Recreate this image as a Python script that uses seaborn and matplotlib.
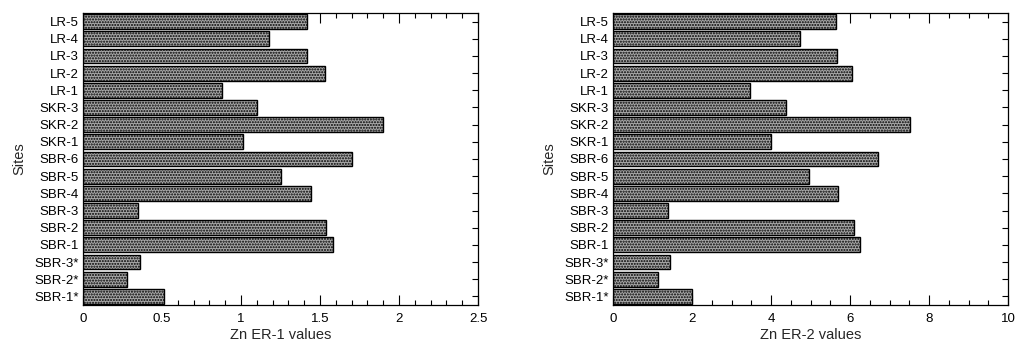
import matplotlib
matplotlib.use("Agg")
import matplotlib.pyplot as plt
import seaborn as sns
import pandas as pd
from matplotlib.ticker import MultipleLocator

sites = ["LR-5", "LR-4", "LR-3", "LR-2", "LR-1", "SKR-3", "SKR-2", "SKR-1",
         "SBR-6", "SBR-5", "SBR-4", "SBR-3", "SBR-2", "SBR-1",
         "SBR-3*", "SBR-2*", "SBR-1*"]
er1_values = [1.42, 1.18, 1.42, 1.53, 0.88, 1.10, 1.90, 1.01,
              1.70, 1.25, 1.44, 0.35, 1.54, 1.58, 0.36, 0.28, 0.51]
er2_values = [5.65, 4.73, 5.67, 6.05, 3.47, 4.37, 7.52, 3.99,
              6.72, 4.95, 5.70, 1.39, 6.10, 6.25, 1.44, 1.13, 2.00]

sns.set_style("ticks")
plt.rcParams['font.family'] = ['Liberation Sans', 'DejaVu Sans']
plt.rcParams['hatch.color'] = '#3a3a3a'
plt.rcParams['hatch.linewidth'] = 1.0

fig = plt.figure(figsize=(10.27, 3.5), dpi=100)
ax1 = fig.add_axes([83/1027, 45/350, 395/1027, 292/350])
ax2 = fig.add_axes([613/1027, 45/350, 395/1027, 292/350])

panels = [
    (ax1, er1_values, "Zn ER-1 values", 2.5, 0.5, 0.1),
    (ax2, er2_values, "Zn ER-2 values", 10, 2, 0.5),
]

for ax, vals, xlabel, xmax, major, minor in panels:
    df = pd.DataFrame({"Sites": sites, "value": vals})
    sns.barplot(data=df, x="value", y="Sites", orient="h", ax=ax,
                color="#a8a8a8", width=0.86, saturation=1,
                edgecolor="black", linewidth=1.0)
    for p in ax.patches:
        p.set_hatch("......")
        p.set_edgecolor("black")
    ax.set_xlim(0, xmax)
    ax.set_ylim(len(sites) - 0.5, -0.5)
    ax.xaxis.set_major_locator(MultipleLocator(major))
    ax.xaxis.set_minor_locator(MultipleLocator(minor))
    ax.xaxis.set_major_formatter(matplotlib.ticker.FuncFormatter(lambda v, p: f"{v:g}"))
    ax.tick_params(axis="both", which="both", direction="in",
                   top=True, right=True, labelsize=9.5, width=0.8, colors="black")
    ax.tick_params(axis="x", which="major", length=7, pad=6)
    ax.tick_params(axis="x", which="minor", length=3.5)
    ax.tick_params(axis="y", which="major", length=4, pad=3)
    for s in ax.spines.values():
        s.set_visible(True)
        s.set_linewidth(0.9)
        s.set_color("black")
    ax.set_xlabel(xlabel, fontsize=10.5, labelpad=2)
    ax.set_ylabel("Sites", fontsize=10.5, labelpad=6)

fig.savefig("out.png", dpi=100)
